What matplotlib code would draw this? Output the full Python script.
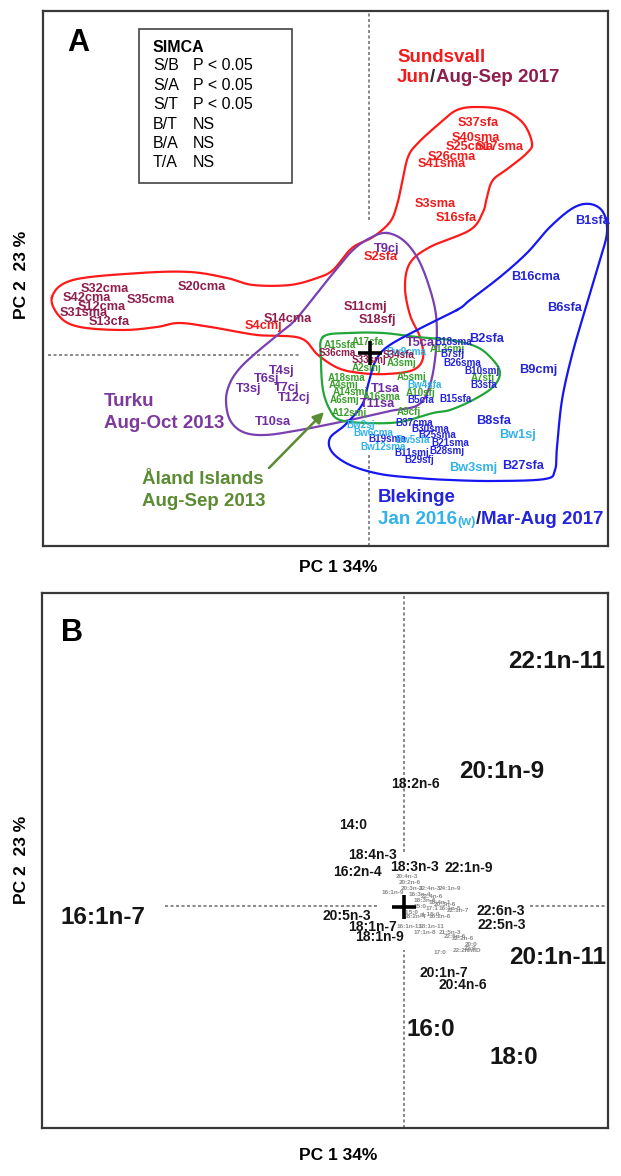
import numpy as np
import matplotlib
matplotlib.use('Agg')
import matplotlib.pyplot as plt
from matplotlib.patches import Rectangle

plt.rcParams['font.family'] = ['Liberation Sans', 'DejaVu Sans']

# ======================= PANEL A : sample scores =======================
# Sundsvall (Jun, bright red)
s_jun_labels = ['S37sfa', 'S40sma', 'S25cma', 'S17sma', 'S26cma', 'S41sma',
                'S3sma', 'S16sfa', 'S2sfa', 'S4cmj']
s_jun_pc1 = [10.9, 10.7, 10.1, 13.1, 8.3, 7.3, 6.6, 8.7, 1.2, -10.6]
s_jun_pc2 = [23.2, 21.7, 20.8, 20.8, 19.8, 19.1, 15.1, 13.7, 9.8, 2.9]
# Sundsvall (Aug-Sep, maroon)
s_aug_labels = ['S32cma', 'S42cma', 'S35cma', 'S12cma', 'S31sma', 'S13cfa',
                'S20cma', 'S14cma', 'S11cmj', 'S18sfj']
s_aug_pc1 = [-26.4, -28.2, -21.8, -26.7, -28.5, -26.0, -16.7, -8.1, -0.4, 0.8]
s_aug_pc2 = [6.6, 5.7, 5.5, 4.8, 4.2, 3.3, 6.8, 3.6, 4.8, 3.5]
s_aug_small_labels = ['S36cma', 'S33smj', 'S34sfa']
s_aug_small_pc1 = [-3.2, 0.0, 3.0]
s_aug_small_pc2 = [0.2, -0.5, 0.0]
# Turku
t_labels = ['T9cj', 'T4sj', 'T6sj', 'T3sj', 'T7cj', 'T12cj', 'T10sa', 'T5ca', 'T1sa', 'T11sa']
t_pc1 = [1.8, -8.7, -10.2, -12.0, -8.2, -7.5, -9.6, 5.1, 1.6, 0.9]
t_pc2 = [10.6, -1.6, -2.4, -3.4, -3.3, -4.3, -6.7, 1.2, -3.4, -4.9]
# Aland Islands
a_labels = ['A17cfa', 'A15sfa', 'A13cmj', 'A2smj', 'A3smj', 'A18sma', 'A5smj', 'A4smj',
            'A7sfj', 'A10sfj', 'A14smj', 'A6smj', 'A16sma', 'A12smj', 'A9cfj']
a_pc1 = [-0.1, -2.9, 7.8, -0.2, 3.3, -2.2, 4.3, -2.5, 11.4, 5.2, -1.9, -2.4, 1.3, -2.0, 4.0]
a_pc2 = [1.3, 1.0, 0.6, -1.3, -0.8, -2.3, -2.2, -3.0, -2.3, -3.8, -3.7, -4.5, -4.2, -5.8, -5.7]
# Blekinge (Mar-Aug 2017)
b_labels = ['B1sfa', 'B16cma', 'B6sfa', 'B2sfa', 'B9cmj', 'B8sfa', 'B27sfa']
b_pc1 = [22.3, 16.7, 19.6, 11.8, 16.9, 12.5, 15.4]
b_pc2 = [13.4, 7.8, 4.7, 1.6, -1.5, -6.6, -11.1]
b_small_labels = ['B18sma', 'B7sfj', 'B26sma', 'B10smj', 'B3sfa', 'B15sfa', 'B5cfa', 'B37cma',
                  'B30sma', 'B25sma', 'B19sma', 'B21sma', 'B11smj', 'B28smj', 'B29sfj']
b_small_pc1 = [8.4, 8.3, 9.3, 11.3, 11.5, 8.7, 5.2, 4.5, 6.1, 6.8, 1.8, 8.1, 4.3, 7.8, 5.0]
b_small_pc2 = [1.3, 0.1, -0.8, -1.6, -3.0, -4.4, -4.5, -6.8, -7.4, -8.0, -8.4, -8.8, -9.8, -9.6, -10.5]
# Blekinge winter (Jan 2016)
bw_labels = ['Bw1sj', 'Bw3smj']
bw_pc1 = [14.8, 10.4]
bw_pc2 = [-8.0, -11.3]
bw_small_labels = ['Bw9cma', 'Bw4sfa', 'Bw2sj', 'Bw6cma', 'Bw5sfa', 'Bw12sma']
bw_small_pc1 = [3.7, 5.6, -0.8, 0.4, 4.4, 1.4]
bw_small_pc2 = [0.3, -3.0, -7.0, -7.8, -8.5, -9.2]

# group outlines (PC1, PC2) traced around each group
hull_s_pc1 = [-31.7, -29.6, -22.9, -17.9, -14.2, -11.6, -7.9, -5.2, -3.6, -1.7, 0.4, 2.1, 2.8,
              3.3, 3.9, 4.9, 7.1, 8.8, 10.8, 13.4, 15.4, 16.3, 15.8, 14.1, 12.4, 11.8, 11.4,
              10.1, 6.1, 4.1, 3.6, 4.1, 5.1, 5.4, 4.4, 1.8, -0.9, -3.1, -5.1, -6.9, -11.2,
              -15.2, -18.9, -21.2, -24.6, -28.9, -30.9]
hull_s_pc2 = [5.8, 7.5, 8.2, 8.3, 7.7, 7.0, 7.0, 7.7, 8.5, 10.7, 11.8, 13.3, 15.0,
              17.2, 19.8, 21.2, 23.2, 24.5, 24.8, 24.5, 23.2, 21.2, 20.2, 18.8, 17.5, 15.8, 14.3,
              12.5, 10.8, 9.2, 6.8, 4.0, 1.8, -0.3, -1.5, -1.9, -1.8, -1.3, 0.0, 1.7, 2.0,
              2.7, 3.2, 2.8, 2.5, 2.8, 3.8]
hull_a_pc1 = [-4.6, -1.9, 1.4, 4.8, 8.1, 10.8, 12.4, 13.1, 12.4, 10.4, 8.1, 6.4, 3.1, -0.2,
              -2.9, -3.9, -4.6, -4.8]
hull_a_pc2 = [1.8, 2.2, 2.2, 1.8, 1.5, 0.8, -0.5, -1.8, -3.2, -4.5, -5.5, -5.8, -6.7, -6.8,
              -6.5, -5.5, -3.5, -0.5]
hull_t_pc1 = [1.8, 3.4, 4.8, 5.9, 6.7, 6.7, 6.1, 4.9, 2.1, -1.9, -6.9, -10.4, -12.6, -13.9,
              -14.3, -13.9, -12.9, -11.2, -8.9, -7.2, -3.9, -1.6, 0.3]
hull_t_pc2 = [12.2, 11.5, 9.8, 7.2, 4.0, 0.5, -3.0, -5.0, -5.6, -6.5, -7.5, -8.0, -7.7, -6.5,
              -4.5, -2.8, -1.3, 0.3, 2.2, 3.7, 7.8, 10.5, 11.8]
hull_b_pc1 = [8.8, 10.1, 13.1, 15.8, 18.1, 20.4, 22.1, 23.4, 23.8, 23.1, 21.6, 20.3, 19.3,
              18.8, 18.6, 17.6, 12.5, 8.1, 4.8, 1.1, -1.9, -3.7, -3.9, -2.4, -0.7, -0.1, 0.6,
              1.8, 4.8]
hull_b_pc2 = [4.5, 5.5, 7.8, 10.2, 12.8, 14.7, 15.1, 14.3, 12.3, 9.5, 4.5, 0.0, -4.5,
              -9.2, -11.5, -12.4, -12.6, -12.5, -12.3, -11.9, -11.0, -9.7, -8.3, -7.0, -5.0,
              -3.0, -0.7, 0.8, 2.5]

simca_rows = [('S/B', 'P < 0.05'), ('S/A', 'P < 0.05'), ('S/T', 'P < 0.05'),
              ('B/T', 'NS'), ('B/A', 'NS'), ('T/A', 'NS')]

# ======================= PANEL B : fatty acid loadings =======================
fa_big_labels = ['22:1n-11', '20:1n-9', '16:1n-7', '20:1n-11', '16:0', '18:0']
fa_big_pc1 = [15.3, 9.8, -30.1, 15.4, 2.7, 11.0]
fa_big_pc2 = [24.4, 13.4, -1.2, -5.1, -12.4, -15.2]
fa_mid_labels = ['18:2n-6', '14:0', '18:4n-3', '16:2n-4', '18:3n-3', '22:1n-9', '20:5n-3',
                 '18:1n-7', '18:1n-9', '22:6n-3', '22:5n-3', '20:1n-7', '20:4n-6']
fa_mid_pc1 = [1.1, -5.1, -3.2, -4.7, 1.0, 6.5, -5.7, -3.2, -2.5, 9.7, 9.8, 4.0, 5.9]
fa_mid_pc2 = [12.2, 8.1, 5.1, 3.4, 3.9, 3.8, -1.0, -2.1, -3.1, -0.5, -1.9, -6.7, -7.9]
fa_minor_labels = ['20:4n-3', '20:2n-6', '20:3n-3', '22:4n-3', '24:1n-9', '16:1n-9', '16:3n-4',
                   '22:4n-6', '18:3n-6', '16:4n-1', '20:3n-6', '15:0', '17:1', '16:1n-5',
                   '22:1n-7', 'i-15:0', 'ai-15:0', '18:2n-4', '16:2n-6', '16:1n-11', '18:1n-11',
                   '17:1n-8', '21:5n-3', '22:5n-6', '22:2n-6', '20:0', '22:0', '17:0', '22:2NMID']
fa_minor_pc1 = [0.3, 0.6, 0.8, 2.6, 4.6, -1.1, 1.6, 2.8, 2.1, 3.6, 4.1, 1.6, 2.8, 4.6,
                5.4, 0.6, 2.6, 1.1, 3.6, 0.5, 2.8, 2.1, 4.6, 5.1, 5.9, 6.7, 6.6, 3.6, 6.3]
fa_minor_pc2 = [2.9, 2.4, 1.7, 1.7, 1.7, 1.3, 1.2, 0.9, 0.6, 0.4, 0.1, 0.0, -0.3, -0.3,
                -0.4, -0.6, -0.8, -1.1, -1.0, -2.1, -2.1, -2.6, -2.6, -3.1, -3.3, -3.8,
                -4.2, -4.6, -4.5]

# ---------------- colours ----------------
RED = '#F21C1C'
MAROON = '#8E1E4E'
PURPLE = '#6E2C9E'
PURPLE_T = '#7D3A9C'
GREEN = '#3A9E2C'
OLIVE = '#5B8B32'
BLUE = '#2424DC'
LBLUE = '#33B2EA'
HULL_RED = '#FF1A1A'
HULL_BLUE = '#1616F2'
HULL_GREEN = '#22A63A'
HULL_PURPLE = '#7A3FB0'
DASH = '#6a6a6a'


def smooth_closed(xs, ys, n=24):
    P = np.column_stack([xs, ys]).astype(float)
    N = len(P)
    t = np.linspace(0, 1, n, endpoint=False)[:, None]
    segs = []
    for i in range(N):
        p0, p1, p2, p3 = P[(i - 1) % N], P[i], P[(i + 1) % N], P[(i + 2) % N]
        segs.append(0.5 * (2 * p1 + (-p0 + p2) * t + (2 * p0 - 5 * p1 + 4 * p2 - p3) * t ** 2
                           + (-p0 + 3 * p1 - 3 * p2 + p3) * t ** 3))
    out = np.vstack(segs + [P[:1]])
    return out[:, 0], out[:, 1]


def labels(ax, names, xs, ys, color, size, z=4):
    for s, x, y in zip(names, xs, ys):
        ax.text(x, y, s, color=color, fontsize=size, fontweight='bold',
                ha='center', va='center', zorder=z)


def rainbow(ax, x, y, parts, size):
    s, c, k = parts[0]
    t = ax.text(x, y, s, color=c, fontsize=size * k, fontweight='bold',
                ha='left', va='center', zorder=6)
    for s, c, k in parts[1:]:
        t = ax.annotate(s, xy=(1, 0), xycoords=t, color=c, fontsize=size * k,
                        fontweight='bold', ha='left', va='bottom', zorder=6)


W, H = 621, 1176
fig = plt.figure(figsize=(W / 100, H / 100), dpi=100)

# ---------------- Panel A ----------------
axA = fig.add_axes([43 / W, 1 - 546 / H, 565 / W, 535 / H])
axA.set_xlim(-32.6, 23.9)
axA.set_ylim(-19.1, 34.4)
axA.set_xticks([])
axA.set_yticks([])
for sp in axA.spines.values():
    sp.set_linewidth(1.6)
    sp.set_color('#383838')

dash_kw = dict(color=DASH, lw=1.1, ls=(0, (2, 1.6)), zorder=1)
axA.plot([0, 0], [13.5, 34.4], **dash_kw)
axA.plot([0, 0], [-19.1, -10.0], **dash_kw)
axA.plot([-32.1, -6.9], [0, 0], **dash_kw)

for hx, hy, col in [(hull_s_pc1, hull_s_pc2, HULL_RED), (hull_t_pc1, hull_t_pc2, HULL_PURPLE),
                    (hull_a_pc1, hull_a_pc2, HULL_GREEN), (hull_b_pc1, hull_b_pc2, HULL_BLUE)]:
    sx, sy = smooth_closed(hx, hy)
    axA.plot(sx, sy, color=col, lw=1.6, zorder=2)

BIG, SMALL = 9.2, 7.1
labels(axA, s_aug_labels, s_aug_pc1, s_aug_pc2, MAROON, BIG)
labels(axA, s_jun_labels, s_jun_pc1, s_jun_pc2, RED, BIG)
labels(axA, a_labels, a_pc1, a_pc2, GREEN, SMALL)
labels(axA, b_small_labels, b_small_pc1, b_small_pc2, BLUE, SMALL)
labels(axA, bw_small_labels, bw_small_pc1, bw_small_pc2, LBLUE, SMALL)
labels(axA, s_aug_small_labels, s_aug_small_pc1, s_aug_small_pc2, MAROON, SMALL)
labels(axA, b_labels, b_pc1, b_pc2, BLUE, BIG)
labels(axA, bw_labels, bw_pc1, bw_pc2, LBLUE, BIG)
labels(axA, t_labels, t_pc1, t_pc2, PURPLE, BIG)

axA.plot([0.1], [0.2], marker='+', ms=17, mew=2.6, color='black', zorder=7)

# group titles
TS = 13.5
axA.text(2.8, 29.8, 'Sundsvall', color=RED, fontsize=TS, fontweight='bold', ha='left', va='center')
rainbow(axA, 2.8, 27.7, [('Jun', RED, 1), ('/', '#2a2a2a', 1), ('Aug-Sep 2017', MAROON, 1)], TS)
axA.text(-26.5, -4.6, 'Turku', color=PURPLE_T, fontsize=TS, fontweight='bold', ha='left', va='center')
axA.text(-26.5, -6.8, 'Aug-Oct 2013', color=PURPLE_T, fontsize=TS, fontweight='bold', ha='left', va='center')
axA.text(-22.7, -12.4, 'Åland Islands', color=OLIVE, fontsize=TS, fontweight='bold', ha='left', va='center')
axA.text(-22.7, -14.6, 'Aug-Sep 2013', color=OLIVE, fontsize=TS, fontweight='bold', ha='left', va='center')
axA.text(0.9, -14.3, 'Blekinge', color=BLUE, fontsize=TS, fontweight='bold', ha='left', va='center')
rainbow(axA, 0.9, -16.4, [('Jan 2016', LBLUE, 1), ('(w)', LBLUE, 0.68), ('/', '#1b1b5a', 1),
                          ('Mar-Aug 2017', BLUE, 1)], TS)
axA.annotate('', xy=(-4.5, -5.7), xytext=(-10.0, -11.3),
             arrowprops=dict(arrowstyle='-|>', color=OLIVE, lw=1.8, mutation_scale=16,
                             shrinkA=0, shrinkB=0), zorder=6)

axA.text(0.062, 0.94, 'A', transform=axA.transAxes, fontsize=22, fontweight='bold',
         ha='center', va='center')

# SIMCA box
axA.add_patch(Rectangle((0.170, 0.679), 0.270, 0.287, transform=axA.transAxes,
                        facecolor='white', edgecolor='#444444', lw=1.2, zorder=5))
axA.text(0.1943, 0.9327, 'SIMCA', transform=axA.transAxes, fontsize=11.5, fontweight='bold',
         ha='left', va='center', zorder=6)
for i, (a, b) in enumerate(simca_rows):
    yy = 0.8972 - i * 0.0362
    axA.text(0.1943, yy, a, transform=axA.transAxes, fontsize=11.5, ha='left', va='center', zorder=6)
    axA.text(0.265, yy, b, transform=axA.transAxes, fontsize=11.5, ha='left', va='center', zorder=6)

# ---------------- Panel B ----------------
axB = fig.add_axes([42 / W, 1 - 1128 / H, 566 / W, 535 / H])
axB.set_xlim(-36.2, 20.4)
axB.set_ylim(-22.2, 31.3)
axB.set_xticks([])
axB.set_yticks([])
for sp in axB.spines.values():
    sp.set_linewidth(1.6)
    sp.set_color('#383838')

axB.plot([0, 0], [5.4, 31.3], **dash_kw)
axB.plot([0, 0], [-22.2, -4.4], **dash_kw)
axB.plot([-23.9, -2.7], [0, 0], **dash_kw)
axB.plot([12.6, 20.4], [0, 0], **dash_kw)

labels(axB, fa_minor_labels, fa_minor_pc1, fa_minor_pc2, '#8a8a8a', 4.6)
labels(axB, fa_mid_labels, fa_mid_pc1, fa_mid_pc2, '#151515', 10)
labels(axB, fa_big_labels, fa_big_pc1, fa_big_pc2, '#151515', 17.5)
axB.plot([0], [-0.1], marker='+', ms=17, mew=2.6, color='black', zorder=7)

axB.text(0.053, 0.925, 'B', transform=axB.transAxes, fontsize=22, fontweight='bold',
         ha='center', va='center')

# axis titles
for yc in (567, 1156):
    fig.text(338 / W, 1 - yc / H, 'PC 1 34%', fontsize=12.5, fontweight='bold', ha='center', va='center')
for yc in (275, 860):
    fig.text(22 / W, 1 - yc / H, 'PC 2  23 %', fontsize=12.5, fontweight='bold', ha='center',
             va='center', rotation=90)

fig.savefig('out.png', dpi=100)
